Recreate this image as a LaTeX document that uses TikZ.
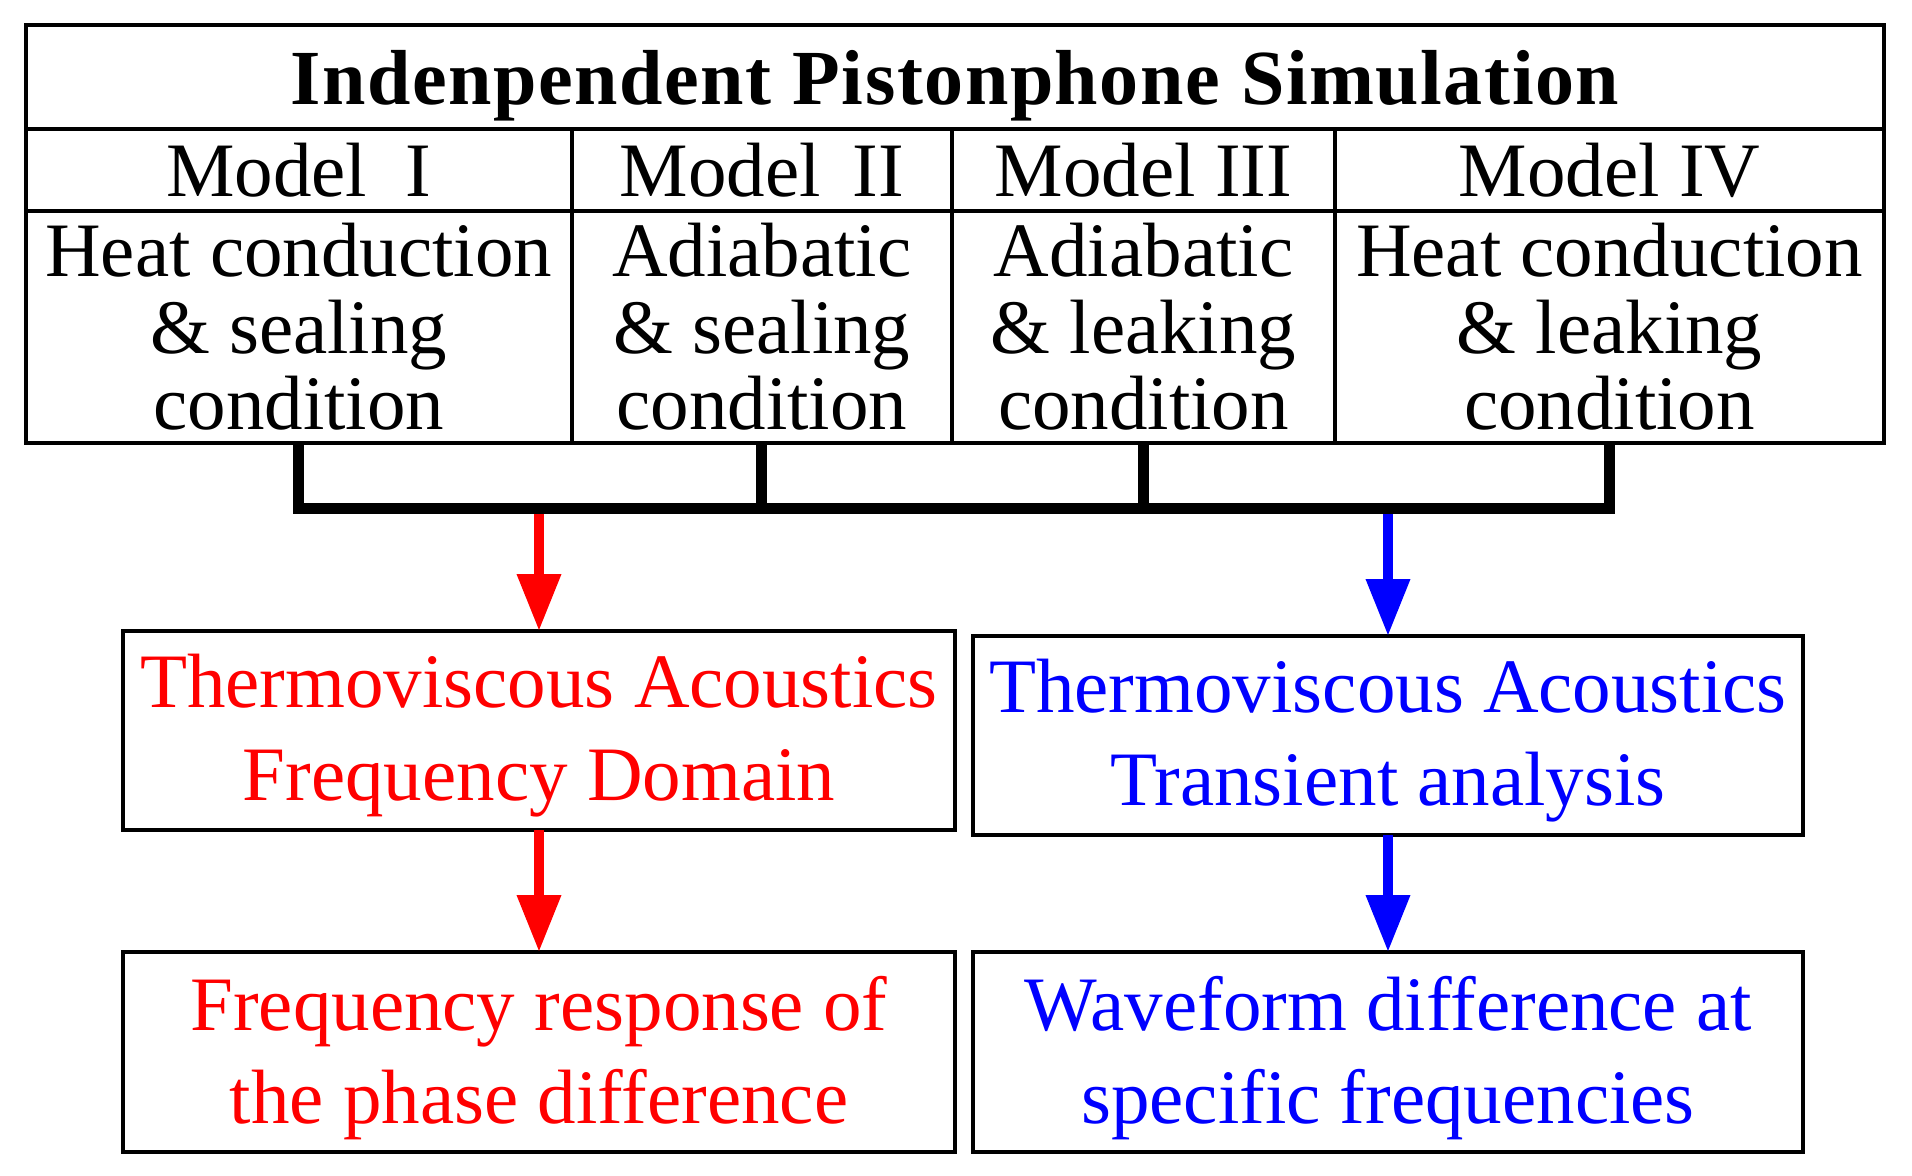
\documentclass[tikz,border=0pt]{standalone}
\usepackage{fontspec}
\setmainfont{Liberation Serif}
\newfontfamily\titlefont{Liberation Serif}[LetterSpace=2.0]
\usetikzlibrary{arrows.meta}
\definecolor{tred}{RGB}{255,0,0}
\definecolor{tblue}{RGB}{0,0,255}
\newcommand\firststrut[1]{\rule{0pt}{#1}}
\tikzset{
  cell/.style={draw, line width=2pt, inner sep=0pt, outer sep=0pt, align=center,
    font=\fontsize{38.5pt}{38.25pt}\selectfont},
  titlecell/.style={cell, text depth=0pt, font=\titlefont\bfseries\fontsize{39pt}{39pt}\selectfont},
  resbox/.style={draw, line width=2pt, inner sep=0pt, outer sep=0pt, align=center,
    minimum width=416pt, minimum height=99.5pt,
    font=\fontsize{38.5pt}{46.5pt}\selectfont},
  connector/.style={line width=5.5pt, line join=miter, line cap=butt},
  flow/.style={line width=5pt, -{Triangle[length=28.5pt,width=21pt]}},
}
\begin{document}
\begin{tikzpicture}[x=0.5pt,y=-0.5pt]
\useasboundingbox (0,0) rectangle (1912,1176);

% table
\node[titlecell, minimum width=929pt, minimum height=52pt] (title) at (955,77)
  {Indenpendent Pistonphone Simulation};

\node[cell, minimum width=272.75pt, minimum height=41pt] (m1) at (298.75,170) {Model\ \ I};
\node[cell, minimum width=190.25pt, minimum height=41pt] (m2) at (761.75,170) {Model\ \,II};
\node[cell, minimum width=191.5pt,  minimum height=41pt] (m3) at (1143.5,170) {Model III};
\node[cell, minimum width=274.5pt,  minimum height=41pt] (m4) at (1609.5,170) {Model IV};

\node[cell, minimum width=272.75pt, minimum height=116pt] (c1) at (298.75,327)
  {Heat conduction\\ \& sealing\\ condition};
\node[cell, minimum width=190.25pt, minimum height=116pt] (c2) at (761.75,327)
  {Adiabatic\\ \& sealing\\ condition};
\node[cell, minimum width=191.5pt,  minimum height=116pt] (c3) at (1143.5,327)
  {Adiabatic\\ \& leaking\\ condition};
\node[cell, minimum width=274.5pt,  minimum height=116pt] (c4) at (1609.5,327)
  {Heat conduction\\ \& leaking\\ condition};

% result boxes
\node[resbox, text=tred] (rb1) at (539,730.5)
  {\firststrut{32pt}Thermoviscous Acoustics\\ Frequency Domain};
\node[resbox, text=tblue, minimum width=415pt] (bb1) at (1388,735.5)
  {\firststrut{32pt}Thermoviscous Acoustics\\ Transient analysis};
\node[resbox, text=tred, minimum height=100pt] (rb2) at (539,1052)
  {\firststrut{33.5pt}Frequency response of\\ the phase difference};
\node[resbox, text=tblue, minimum width=415pt, minimum height=100pt] (bb2) at (1388,1052)
  {\firststrut{33.5pt}Waveform difference at\\ specific frequencies};

% bar coordinate
\coordinate (bar) at (0,508.5);

% arrows
\draw[flow, tred]  (bar -| rb1.north) -- (rb1.north);
\draw[flow, tblue] (bar -| bb1.north) -- (bb1.north);
\draw[flow, tred]  (rb1.south) -- (rb2.north);
\draw[flow, tblue] (bb1.south) -- (bb2.north);

% collecting bar
\draw[connector] (c1.south) -- (c1.south |- bar) -- (c4.south |- bar) -- (c4.south);
\draw[connector] (c2.south) -- (c2.south |- bar);
\draw[connector] (c3.south) -- (c3.south |- bar);
\end{tikzpicture}
\end{document}
